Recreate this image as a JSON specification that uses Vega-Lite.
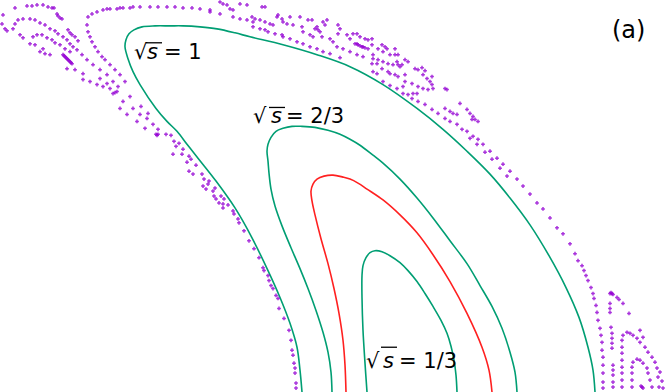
{
  "$schema": "https://vega.github.io/schema/vega-lite/v6.json",
  "width": 665,
  "height": 392,
  "padding": 0,
  "autosize": {"type": "fit", "contains": "padding"},
  "config": {"view": {"stroke": null}},
  "datasets": {
    "curves": [
      {"c":"c1","i":0,"x":302,"y":392},{"c":"c1","i":1,"x":300,"y":370},{"c":"c1","i":2,"x":297,"y":347},{"c":"c1","i":3,"x":290,"y":323},{"c":"c1","i":4,"x":280,"y":297},{"c":"c1","i":5,"x":268,"y":270},{"c":"c1","i":6,"x":252,"y":237},{"c":"c1","i":7,"x":235,"y":207},{"c":"c1","i":8,"x":216,"y":180},{"c":"c1","i":9,"x":198,"y":157},{"c":"c1","i":10,"x":187,"y":143},{"c":"c1","i":11,"x":177,"y":130},{"c":"c1","i":12,"x":167,"y":120},{"c":"c1","i":13,"x":156,"y":107},{"c":"c1","i":14,"x":140,"y":83},{"c":"c1","i":15,"x":133,"y":70},{"c":"c1","i":16,"x":128,"y":57},{"c":"c1","i":17,"x":125,"y":45},{"c":"c1","i":18,"x":126,"y":38},{"c":"c1","i":19,"x":129,"y":32},{"c":"c1","i":20,"x":134,"y":28},{"c":"c1","i":21,"x":142,"y":25},{"c":"c1","i":22,"x":155,"y":24},{"c":"c1","i":23,"x":170,"y":24},{"c":"c1","i":24,"x":183,"y":24},{"c":"c1","i":25,"x":200,"y":25},{"c":"c1","i":26,"x":217,"y":27},{"c":"c1","i":27,"x":235,"y":31},{"c":"c1","i":28,"x":250,"y":35},{"c":"c1","i":29,"x":283,"y":43},{"c":"c1","i":30,"x":317,"y":53},{"c":"c1","i":31,"x":350,"y":65},{"c":"c1","i":32,"x":383,"y":83},{"c":"c1","i":33,"x":417,"y":107},{"c":"c1","i":34,"x":443,"y":128},{"c":"c1","i":35,"x":467,"y":150},{"c":"c1","i":36,"x":490,"y":173},{"c":"c1","i":37,"x":510,"y":197},{"c":"c1","i":38,"x":530,"y":224},{"c":"c1","i":39,"x":549,"y":255},{"c":"c1","i":40,"x":566,"y":287},{"c":"c1","i":41,"x":579,"y":317},{"c":"c1","i":42,"x":588,"y":347},{"c":"c1","i":43,"x":593,"y":370},{"c":"c1","i":44,"x":595,"y":392},
      {"c":"c2","i":0,"x":332,"y":392},{"c":"c2","i":1,"x":331,"y":372},{"c":"c2","i":2,"x":328,"y":352},{"c":"c2","i":3,"x":323,"y":332},{"c":"c2","i":4,"x":316,"y":310},{"c":"c2","i":5,"x":308,"y":288},{"c":"c2","i":6,"x":300,"y":268},{"c":"c2","i":7,"x":291,"y":247},{"c":"c2","i":8,"x":282,"y":225},{"c":"c2","i":9,"x":275,"y":205},{"c":"c2","i":10,"x":271,"y":188},{"c":"c2","i":11,"x":269,"y":172},{"c":"c2","i":12,"x":268,"y":160},{"c":"c2","i":13,"x":267,"y":150},{"c":"c2","i":14,"x":268,"y":143},{"c":"c2","i":15,"x":271,"y":136},{"c":"c2","i":16,"x":276,"y":130},{"c":"c2","i":17,"x":283,"y":127},{"c":"c2","i":18,"x":292,"y":125},{"c":"c2","i":19,"x":302,"y":125},{"c":"c2","i":20,"x":315,"y":126},{"c":"c2","i":21,"x":328,"y":129},{"c":"c2","i":22,"x":340,"y":133},{"c":"c2","i":23,"x":350,"y":138},{"c":"c2","i":24,"x":360,"y":144},{"c":"c2","i":25,"x":373,"y":154},{"c":"c2","i":26,"x":383,"y":162},{"c":"c2","i":27,"x":400,"y":178},{"c":"c2","i":28,"x":417,"y":197},{"c":"c2","i":29,"x":433,"y":217},{"c":"c2","i":30,"x":450,"y":240},{"c":"c2","i":31,"x":467,"y":263},{"c":"c2","i":32,"x":480,"y":285},{"c":"c2","i":33,"x":492,"y":306},{"c":"c2","i":34,"x":502,"y":328},{"c":"c2","i":35,"x":510,"y":352},{"c":"c2","i":36,"x":515,"y":372},{"c":"c2","i":37,"x":517,"y":392},
      {"c":"c3","i":0,"x":346,"y":392},{"c":"c3","i":1,"x":345,"y":365},{"c":"c3","i":2,"x":343,"y":340},{"c":"c3","i":3,"x":339,"y":313},{"c":"c3","i":4,"x":334,"y":288},{"c":"c3","i":5,"x":328,"y":263},{"c":"c3","i":6,"x":321,"y":238},{"c":"c3","i":7,"x":315,"y":214},{"c":"c3","i":8,"x":312,"y":200},{"c":"c3","i":9,"x":311,"y":190},{"c":"c3","i":10,"x":313,"y":183},{"c":"c3","i":11,"x":317,"y":178},{"c":"c3","i":12,"x":324,"y":175},{"c":"c3","i":13,"x":333,"y":174},{"c":"c3","i":14,"x":343,"y":176},{"c":"c3","i":15,"x":350,"y":178},{"c":"c3","i":16,"x":358,"y":182},{"c":"c3","i":17,"x":367,"y":188},{"c":"c3","i":18,"x":383,"y":199},{"c":"c3","i":19,"x":400,"y":214},{"c":"c3","i":20,"x":417,"y":232},{"c":"c3","i":21,"x":433,"y":254},{"c":"c3","i":22,"x":450,"y":281},{"c":"c3","i":23,"x":467,"y":313},{"c":"c3","i":24,"x":482,"y":347},{"c":"c3","i":25,"x":489,"y":370},{"c":"c3","i":26,"x":492,"y":392},
      {"c":"c4","i":0,"x":367,"y":392},{"c":"c4","i":1,"x":365,"y":363},{"c":"c4","i":2,"x":363,"y":330},{"c":"c4","i":3,"x":362,"y":297},{"c":"c4","i":4,"x":362,"y":275},{"c":"c4","i":5,"x":363,"y":265},{"c":"c4","i":6,"x":366,"y":257},{"c":"c4","i":7,"x":370,"y":252},{"c":"c4","i":8,"x":375,"y":250},{"c":"c4","i":9,"x":382,"y":251},{"c":"c4","i":10,"x":390,"y":255},{"c":"c4","i":11,"x":400,"y":262},{"c":"c4","i":12,"x":408,"y":270},{"c":"c4","i":13,"x":417,"y":281},{"c":"c4","i":14,"x":425,"y":293},{"c":"c4","i":15,"x":433,"y":306},{"c":"c4","i":16,"x":441,"y":320},{"c":"c4","i":17,"x":447,"y":333},{"c":"c4","i":18,"x":451,"y":346},{"c":"c4","i":19,"x":454,"y":360},{"c":"c4","i":20,"x":456,"y":375},{"c":"c4","i":21,"x":457,"y":392}
    ],
    "orbit": [
      {"x":15,"y":6},{"x":27,"y":4},{"x":32,"y":4},{"x":37,"y":3},{"x":43,"y":3},{"x":48,"y":5},{"x":52,"y":6},{"x":54,"y":6},{"x":57,"y":12},{"x":58,"y":14},{"x":60,"y":16},{"x":62,"y":17},
      {"x":3,"y":13},{"x":2,"y":22},{"x":5,"y":27},{"x":7,"y":29},
      {"x":15,"y":22},{"x":18,"y":18},{"x":23,"y":17},{"x":30,"y":17},{"x":35,"y":18},{"x":40,"y":21},{"x":45,"y":23},{"x":50,"y":27},{"x":55,"y":29},{"x":58,"y":32},{"x":63,"y":35},{"x":67,"y":38},{"x":70,"y":42},{"x":73,"y":45},{"x":13,"y":27},{"x":20,"y":33},{"x":23,"y":36},
      {"x":33,"y":35},{"x":37,"y":33},{"x":42,"y":33},{"x":47,"y":36},{"x":52,"y":38},{"x":55,"y":41},{"x":60,"y":43},{"x":65,"y":47},{"x":70,"y":50},
      {"x":30,"y":42},{"x":35,"y":43},{"x":40,"y":50},{"x":45,"y":52},{"x":50,"y":53},{"x":43,"y":47},
      {"x":63,"y":53},{"x":64,"y":54},{"x":65,"y":55},{"x":66,"y":56},{"x":67,"y":57},{"x":68,"y":58},{"x":69,"y":59},{"x":70,"y":60},{"x":71,"y":61},{"x":72,"y":62},
      {"x":68,"y":28},{"x":70,"y":31},{"x":72,"y":33},{"x":75,"y":35},{"x":78,"y":39},
      {"x":77,"y":48},{"x":82,"y":53},{"x":87,"y":58},{"x":93,"y":63},{"x":100,"y":68},{"x":107,"y":73},{"x":113,"y":80},{"x":118,"y":85},
      {"x":67,"y":67},{"x":75,"y":68},{"x":83,"y":72},{"x":83,"y":78},{"x":90,"y":80},{"x":97,"y":83},{"x":103,"y":85},{"x":110,"y":87},
      {"x":88,"y":15},{"x":92,"y":12},{"x":97,"y":10},{"x":103,"y":8},{"x":110,"y":7},{"x":117,"y":7},{"x":123,"y":6},{"x":130,"y":6},{"x":87,"y":23},{"x":88,"y":30},{"x":90,"y":35},{"x":92,"y":40},{"x":95,"y":45},{"x":98,"y":50},{"x":102,"y":55},{"x":105,"y":58},{"x":110,"y":63},{"x":115,"y":68},{"x":120,"y":73},{"x":125,"y":80},
      {"x":117,"y":90},{"x":113,"y":92},{"x":115,"y":91},{"x":123,"y":100},{"x":133,"y":107},{"x":140,"y":113},{"x":147,"y":117},{"x":153,"y":123},{"x":158,"y":128},{"x":120,"y":107},{"x":127,"y":113},{"x":137,"y":120},{"x":145,"y":127},{"x":130,"y":95},{"x":141,"y":105},{"x":148,"y":112},{"x":100,"y":77},{"x":107,"y":82},
      {"x":156,"y":133},{"x":157,"y":134},{"x":158,"y":133},{"x":166,"y":133},{"x":171,"y":134},{"x":174,"y":140},{"x":179,"y":142},{"x":176,"y":145},{"x":183,"y":148},{"x":182,"y":153},{"x":189,"y":155},{"x":191,"y":158},{"x":173,"y":153},{"x":187,"y":161},{"x":196,"y":164},{"x":189,"y":170},{"x":193,"y":173},{"x":202,"y":173},{"x":209,"y":180},{"x":204,"y":178},{"x":208,"y":183},{"x":203,"y":185},{"x":206,"y":188},{"x":213,"y":190},{"x":215,"y":187},{"x":214,"y":195},{"x":216,"y":198},{"x":219,"y":202},{"x":223,"y":203},{"x":221,"y":195},{"x":224,"y":198},{"x":223,"y":207},{"x":228,"y":204},{"x":233,"y":210},{"x":234,"y":213},{"x":238,"y":218},{"x":239,"y":222},{"x":244,"y":230},{"x":249,"y":240},{"x":254,"y":248},{"x":259,"y":257},{"x":263,"y":267},{"x":264,"y":270},{"x":268,"y":275},{"x":269,"y":280},{"x":271,"y":285},{"x":273,"y":288},{"x":276,"y":295},{"x":278,"y":298},{"x":279,"y":308},{"x":284,"y":318},{"x":289,"y":330},{"x":291,"y":340},{"x":292,"y":350},{"x":293,"y":355},{"x":294,"y":363},{"x":295,"y":368},{"x":295,"y":373},{"x":296,"y":383},{"x":296,"y":388},
      {"x":107,"y":7},{"x":120,"y":6},{"x":133,"y":5},{"x":140,"y":5},{"x":150,"y":5},{"x":158,"y":5},{"x":167,"y":5},{"x":175,"y":5},{"x":183,"y":6},{"x":192,"y":6},{"x":200,"y":7},{"x":210,"y":8},
      {"x":220,"y":0},{"x":223,"y":2},{"x":227,"y":3},{"x":230,"y":7},{"x":233,"y":8},{"x":240,"y":2},{"x":247,"y":3},
      {"x":210,"y":10},{"x":220,"y":12},{"x":233,"y":15},{"x":240,"y":17},{"x":247,"y":18},{"x":253,"y":20},
      {"x":262,"y":5},{"x":265,"y":5},
      {"x":252,"y":15},{"x":255,"y":17},{"x":260,"y":18},{"x":265,"y":20},{"x":270,"y":22},{"x":273,"y":23},
      {"x":253,"y":25},{"x":260,"y":27},{"x":265,"y":28},{"x":268,"y":30},{"x":275,"y":32},{"x":282,"y":33},{"x":283,"y":35},
      {"x":277,"y":15},{"x":278,"y":13},{"x":282,"y":17},{"x":283,"y":20},{"x":287,"y":22},{"x":290,"y":15},{"x":293,"y":23},{"x":300,"y":15},{"x":302,"y":25},{"x":303,"y":30},{"x":308,"y":18},{"x":312,"y":18},{"x":310,"y":33},{"x":313,"y":35},{"x":315,"y":27},{"x":317,"y":25},{"x":318,"y":28},{"x":320,"y":30},{"x":323,"y":20},{"x":325,"y":23},{"x":327,"y":18},{"x":322,"y":35},{"x":330,"y":37},{"x":333,"y":40},{"x":338,"y":23},{"x":340,"y":27},{"x":338,"y":32},{"x":337,"y":45},{"x":343,"y":47},{"x":347,"y":33},{"x":350,"y":37},{"x":353,"y":32},{"x":357,"y":32},{"x":360,"y":35},{"x":365,"y":37},{"x":368,"y":38},
      {"x":355,"y":42},{"x":357,"y":42},{"x":358,"y":43},{"x":360,"y":44},{"x":362,"y":45},{"x":363,"y":45},{"x":365,"y":46},
      {"x":350,"y":50},{"x":357,"y":53},{"x":363,"y":55},{"x":368,"y":47},{"x":373,"y":53},{"x":377,"y":62},
      {"x":290,"y":37},{"x":297,"y":40},{"x":303,"y":42},{"x":310,"y":45},{"x":317,"y":47},{"x":323,"y":50},{"x":330,"y":52},{"x":340,"y":56},
      {"x":372,"y":37},{"x":372,"y":43},{"x":382,"y":43},{"x":385,"y":45},{"x":387,"y":47},{"x":395,"y":47},{"x":378,"y":47},{"x":383,"y":50},{"x":390,"y":53},{"x":395,"y":53},{"x":398,"y":53},{"x":373,"y":57},{"x":378,"y":58},{"x":383,"y":60},{"x":388,"y":62},{"x":393,"y":63},{"x":398,"y":63},{"x":400,"y":65},{"x":402,"y":63},{"x":397,"y":60},{"x":405,"y":58},{"x":408,"y":60},{"x":372,"y":62},{"x":373,"y":70},{"x":377,"y":72},{"x":382,"y":67},{"x":388,"y":70},{"x":390,"y":72},{"x":395,"y":73},{"x":398,"y":75},{"x":405,"y":73},{"x":415,"y":67},{"x":418,"y":68},{"x":422,"y":66},{"x":425,"y":69},{"x":423,"y":73},{"x":427,"y":77},{"x":430,"y":80},{"x":432,"y":83},{"x":433,"y":87},{"x":428,"y":88},{"x":423,"y":87},{"x":418,"y":85},{"x":412,"y":82},{"x":405,"y":80},{"x":432,"y":75},{"x":383,"y":80},{"x":390,"y":84},{"x":397,"y":87},{"x":403,"y":85},{"x":403,"y":92},{"x":408,"y":93},{"x":413,"y":92},{"x":417,"y":92},{"x":412,"y":97},{"x":418,"y":100},{"x":425,"y":103},{"x":432,"y":108},{"x":438,"y":112},{"x":445,"y":107},{"x":450,"y":110},{"x":453,"y":112},{"x":457,"y":113},{"x":460,"y":102},{"x":467,"y":108},{"x":470,"y":112},{"x":473,"y":115},{"x":475,"y":118},{"x":472,"y":118},{"x":478,"y":120},{"x":445,"y":117},{"x":450,"y":120},{"x":457,"y":123},{"x":462,"y":128},{"x":445,"y":87},{"x":447,"y":88},
      {"x":467,"y":130},{"x":473,"y":135},{"x":478,"y":138},{"x":483,"y":143},{"x":490,"y":150},{"x":497,"y":157},{"x":503,"y":163},{"x":510,"y":170},{"x":517,"y":178},{"x":523,"y":185},{"x":530,"y":193},{"x":537,"y":202},{"x":543,"y":208},{"x":550,"y":217},{"x":557,"y":227},{"x":563,"y":233},{"x":570,"y":243},{"x":575,"y":253},{"x":578,"y":260},{"x":582,"y":265},{"x":584,"y":270},{"x":586,"y":275},{"x":588,"y":280},{"x":591,"y":287},{"x":593,"y":293},{"x":594,"y":298},{"x":596,"y":305},{"x":597,"y":312},{"x":598,"y":320},{"x":600,"y":328},{"x":601,"y":335},{"x":602,"y":342},{"x":602,"y":350},{"x":603,"y":357},{"x":603,"y":365},{"x":603,"y":373},{"x":603,"y":382},{"x":603,"y":388},
      {"x":470,"y":137},{"x":477,"y":143},{"x":485,"y":151},{"x":492,"y":158},{"x":500,"y":167},{"x":507,"y":175},
      {"x":610,"y":293},{"x":611,"y":292},{"x":612,"y":293},{"x":613,"y":294},{"x":617,"y":297},{"x":619,"y":299},{"x":623,"y":303},{"x":629,"y":313},{"x":610,"y":303},{"x":610,"y":308},{"x":610,"y":312},{"x":611,"y":327},{"x":612,"y":333},{"x":612,"y":338},{"x":612,"y":343},{"x":612,"y":348},{"x":613,"y":365},{"x":613,"y":370},{"x":613,"y":375},{"x":613,"y":382},{"x":613,"y":387},
      {"x":622,"y":340},{"x":623,"y":335},{"x":627,"y":332},{"x":630,"y":333},{"x":633,"y":335},{"x":637,"y":338},{"x":640,"y":342},{"x":645,"y":347},{"x":648,"y":352},{"x":652,"y":357},{"x":655,"y":362},{"x":657,"y":368},{"x":658,"y":377},{"x":659,"y":387},{"x":622,"y":347},{"x":622,"y":353},{"x":622,"y":360},{"x":622,"y":367},{"x":622,"y":373},{"x":622,"y":380},{"x":622,"y":387},
      {"x":632,"y":367},{"x":633,"y":362},{"x":637,"y":359},{"x":640,"y":360},{"x":643,"y":363},{"x":647,"y":368},{"x":648,"y":373},{"x":650,"y":380},{"x":652,"y":387},{"x":632,"y":373},{"x":632,"y":380},{"x":632,"y":387},
      {"x":641,"y":386},{"x":642,"y":387},{"x":643,"y":388},
      {"x":640,"y":330},{"x":643,"y":337},{"x":660,"y":372},{"x":662,"y":381},{"x":663,"y":388}
    ],
    "lab": [
      {"x":134,"y":57,"t":"√"},{"x":164,"y":57,"t":"= 1"},
      {"x":253,"y":122,"t":"√"},{"x":286,"y":122,"t":"= 2/3"},
      {"x":366,"y":368,"t":"√"},{"x":399,"y":368,"t":"= 1/3"}
    ],
    "ital": [
      {"x":147,"y":57,"t":"s"},{"x":271,"y":122,"t":"s"},{"x":383,"y":368,"t":"s"}
    ],
    "bar": [
      {"x":146,"x2":162,"y":41},{"x":269,"x2":285,"y":106},{"x":381,"x2":397,"y":347}
    ]
  },
  "layer": [
    {
      "data": {"name": "curves"},
      "mark": {"type": "line", "strokeWidth": 1.6, "clip": true, "interpolate": "catmull-rom"},
      "encoding": {
        "x": {"field": "x", "type": "quantitative", "scale": {"domain": [0, 665], "nice": false, "zero": false}, "axis": null},
        "y": {"field": "y", "type": "quantitative", "scale": {"domain": [0, 392], "nice": false, "zero": false, "reverse": true}, "axis": null},
        "order": {"field": "i", "type": "quantitative"},
        "color": {"field": "c", "type": "nominal", "scale": {"domain": ["c1", "c2", "c3", "c4"], "range": ["#009e73", "#009e73", "#ff2020", "#009e73"]}, "legend": null}
      }
    },
    {
      "data": {"name": "orbit"},
      "mark": {"type": "point", "shape": "cross", "filled": true, "size": 14, "color": "#9400d3", "opacity": 0.8},
      "encoding": {
        "x": {"field": "x", "type": "quantitative", "axis": null},
        "y": {"field": "y", "type": "quantitative", "axis": null}
      }
    },
    {
      "data": {"name": "lab"},
      "mark": {"type": "text", "align": "left", "baseline": "alphabetic", "font": "DejaVu Sans", "fontSize": 21, "color": "black"},
      "encoding": {
        "x": {"field": "x", "type": "quantitative"},
        "y": {"field": "y", "type": "quantitative"},
        "text": {"field": "t"}
      }
    },
    {
      "data": {"name": "ital"},
      "mark": {"type": "text", "align": "left", "baseline": "alphabetic", "font": "DejaVu Sans", "fontStyle": "italic", "fontSize": 21, "color": "black"},
      "encoding": {
        "x": {"field": "x", "type": "quantitative"},
        "y": {"field": "y", "type": "quantitative"},
        "text": {"field": "t"}
      }
    },
    {
      "data": {"name": "bar"},
      "mark": {"type": "rule", "strokeWidth": 1.3, "color": "black"},
      "encoding": {
        "x": {"field": "x", "type": "quantitative"},
        "x2": {"field": "x2"},
        "y": {"field": "y", "type": "quantitative"}
      }
    },
    {
      "data": {"values": [{"x": 612, "y": 36, "t": "(a)"}]},
      "mark": {"type": "text", "align": "left", "baseline": "alphabetic", "font": "DejaVu Sans", "fontSize": 24, "color": "black"},
      "encoding": {
        "x": {"field": "x", "type": "quantitative"},
        "y": {"field": "y", "type": "quantitative"},
        "text": {"field": "t"}
      }
    }
  ]
}
